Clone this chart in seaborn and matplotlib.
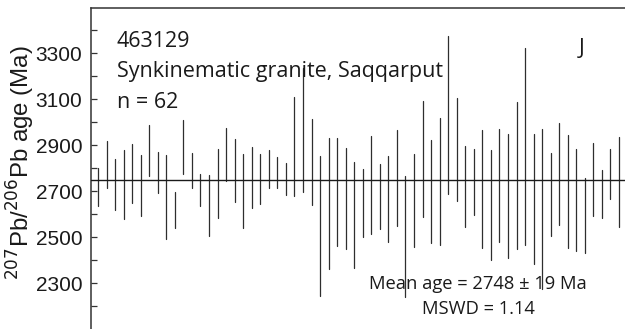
import numpy as np
import pandas as pd
import matplotlib
matplotlib.use("Agg")
import matplotlib.pyplot as plt
import seaborn as sns

# 207Pb/206Pb ages of single zircon analyses, 2-sigma range (Ma)
upper = [2799, 2917, 2842, 2878, 2904, 2857, 2987, 2871, 2857, 2697,
         3010, 2868, 2774, 2771, 2885, 2974, 2926, 2864, 2893, 2864,
         2878, 2847, 2823, 3110, 3238, 3013, 2853, 2933, 2930, 2887,
         2829, 2796, 2939, 2817, 2853, 2967, 2768, 2861, 3094, 2925,
         3017, 3378, 3107, 2897, 2885, 2965, 2878, 2970, 2948, 3088,
         3325, 2951, 2973, 2868, 2996, 2943, 2886, 2758, 2912, 2793,
         2886, 2936]
lower = [2636, 2712, 2617, 2578, 2648, 2593, 2767, 2694, 2494, 2539,
         2777, 2716, 2636, 2503, 2583, 2743, 2651, 2540, 2629, 2643,
         2713, 2716, 2683, 2680, 2697, 2639, 2242, 2360, 2461, 2448,
         2364, 2501, 2515, 2535, 2477, 2549, 2238, 2455, 2588, 2474,
         2465, 2687, 2657, 2542, 2596, 2451, 2399, 2481, 2407, 2448,
         2465, 2383, 2274, 2503, 2552, 2451, 2440, 2433, 2593, 2584,
         2665, 2542]

mean_age = 2748
mean_err = 19
mswd = 1.14
sample = "463129"
unit = "Synkinematic granite, Saqqarput"
panel = "J"
major_ticks = [2300, 2500, 2700, 2900, 3100, 3300]
minor_ticks = [2200, 2400, 2600, 2800, 3000, 3200, 3400]

analysis = np.arange(1, len(upper) + 1)
df = pd.DataFrame({
    "analysis": np.concatenate([analysis, analysis]),
    "age": np.concatenate([lower, upper]),
})

sns.set_theme(style="ticks")
plt.rcParams["font.family"] = ["Open Sans", "DejaVu Sans"]

fig = plt.figure(figsize=(6.25, 3.29), dpi=100)
ax = fig.add_axes([90.7 / 625, 0.0, 1 - 90.7 / 625, 1 - 7.5 / 329])

# each analysis is drawn as a vertical segment between its two ages
sns.lineplot(data=df, x="analysis", y="age", units="analysis",
             estimator=None, color="#2e2e2e", linewidth=0.9, ax=ax,
             legend=False)

ax.axhline(mean_age, color="#1a1a1a", linewidth=1.0, zorder=3)

ax.set_xlim(0.15, 62.7)
ax.set_ylim(2100, 3500)
ax.set_xticks([])
ax.set_xlabel("")
ax.set_yticks(major_ticks)
ax.set_yticks(minor_ticks, minor=True)
ax.tick_params(axis="y", which="both", direction="in", length=4.5,
               width=0.9, color="#333333", pad=6)
for lab in ax.get_yticklabels():
    lab.set_fontfamily(["Liberation Sans Narrow", "Liberation Sans"])
    lab.set_fontsize(15)
    lab.set_color("#1a1a1a")

ax.set_ylabel(r"$^{207}$Pb/$^{206}$Pb age (Ma)", fontsize=17.3,
              fontfamily=["Liberation Sans", "DejaVu Sans"], color="#1a1a1a")
ax.yaxis.set_label_coords(-0.100, 0.518)

for side in ("right", "bottom"):
    ax.spines[side].set_visible(False)
for side in ("left", "top"):
    ax.spines[side].set_color("#333333")
    ax.spines[side].set_linewidth(1.1)

txt = dict(color="#1a1a1a", transform=ax.transData)
ax.text(3.2, 3330, sample, fontsize=15.5, va="baseline", ha="left", **txt)
ax.text(3.2, 3196, unit, fontsize=15.5, va="baseline", ha="left", **txt)
ax.text(3.2, 3061, f"n = {len(upper)}", fontsize=15.5, va="baseline",
        ha="left", **txt)
ax.text(57.6, 3296, panel, fontsize=15.5, va="baseline", ha="center", **txt)
ax.text(45.5, 2274, f"Mean age = {mean_age} \u00b1 {mean_err} Ma",
        fontsize=13.2, va="baseline", ha="center", **txt)
ax.text(45.5, 2165, f"MSWD = {mswd:.2f}", fontsize=13.2, va="baseline",
        ha="center", **txt)

fig.savefig("out.png", dpi=100)
